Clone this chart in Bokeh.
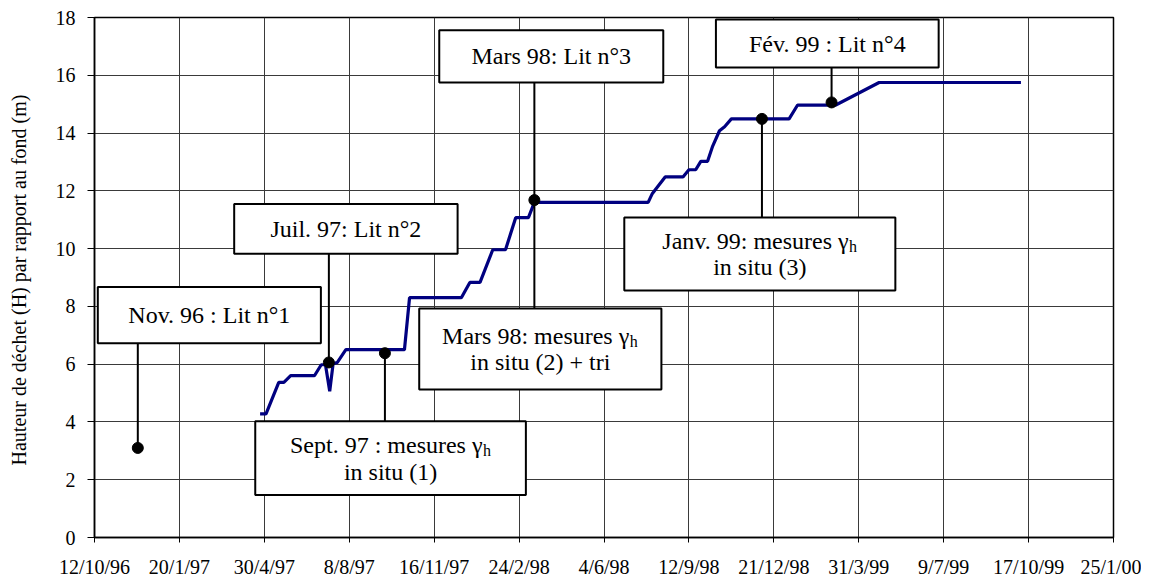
import pandas as pd
from bokeh.plotting import figure
from bokeh.models import FixedTicker, Label, Range1d
from bokeh.embed import file_html
from bokeh.resources import INLINE

# ---------------- data ----------------
height_dates = ["1997-04-25", "1997-05-02", "1997-05-17", "1997-05-23", "1997-05-31", "1997-06-28",
                "1997-07-06", "1997-07-11", "1997-07-16", "1997-07-20", "1997-07-25", "1997-08-04",
                "1997-10-12", "1997-10-18", "1997-12-18", "1997-12-28", "1998-01-09", "1998-01-24",
                "1998-02-08", "1998-02-20", "1998-03-07", "1998-03-14", "1998-07-26", "1998-07-31",
                "1998-08-15", "1998-09-05", "1998-09-12", "1998-09-20", "1998-09-26", "1998-10-04",
                "1998-10-10", "1998-10-18", "1998-10-24", "1998-11-01", "1999-01-08", "1999-01-18",
                "1999-03-04", "1999-04-24", "1999-10-08"]
height_m = [4.28, 4.28, 5.37, 5.37, 5.60, 5.60,
            5.98, 5.98, 5.06, 6.02, 6.06, 6.50,
            6.50, 8.30, 8.30, 8.83, 8.83, 9.96,
            9.96, 11.07, 11.07, 11.60, 11.60, 11.91,
            12.48, 12.48, 12.73, 12.73, 13.02, 13.02,
            13.55, 14.08, 14.22, 14.49, 14.49, 14.97,
            14.97, 15.75, 15.75]

event_dates = ["1996-12-02", "1997-07-15", "1997-09-19", "1998-03-14", "1998-12-07", "1999-02-27"]
event_heights = [3.10, 6.06, 6.38, 11.68, 14.49, 15.06]

tick_dates = ["1996-10-12", "1997-01-20", "1997-04-30", "1997-08-08", "1997-11-16", "1998-02-24",
              "1998-06-04", "1998-09-12", "1998-12-21", "1999-03-31", "1999-07-09", "1999-10-17",
              "2000-01-25"]
tick_labels = ["12/10/96", "20/1/97", "30/4/97", "8/8/97", "16/11/97", "24/2/98", "4/6/98",
               "12/9/98", "21/12/98", "31/3/99", "9/7/99", "17/10/99", "25/1/00"]
y_ticks = [0, 2, 4, 6, 8, 10, 12, 14, 16, 18]

y_title = "Hauteur de déchet (H) par rapport au fond  (m)"

# ---------------- helpers ----------------
def to_ms(d):
    return pd.Timestamp(d).value // 10**6

tick_ms = [to_ms(d) for d in tick_dates]
start_ms = tick_ms[0]
DAY = 86400000

def dx(days):
    # position expressed in days after the first tick
    return start_ms + days * DAY

FONT = "Liberation Serif"

p = figure(width=1141, height=580, output_backend="svg", toolbar_location=None,
           x_axis_type="datetime",
           x_range=Range1d(tick_ms[0], tick_ms[-1]), y_range=Range1d(0, 18),
           min_border_left=94, min_border_right=28, min_border_top=17, min_border_bottom=40)
p.background_fill_color = "white"
p.border_fill_color = "white"
p.outline_line_color = "black"
p.outline_line_width = 1.5

# axes
p.xaxis.ticker = FixedTicker(ticks=tick_ms)
p.xaxis.major_label_overrides = dict(zip(tick_ms, tick_labels))
p.yaxis.ticker = FixedTicker(ticks=y_ticks)
for ax in (p.xaxis[0], p.yaxis[0]):
    ax.minor_tick_line_color = None
    ax.major_tick_in = 0
    ax.axis_line_color = "black"
    ax.axis_line_width = 1.5
    ax.major_tick_line_color = "black"
    ax.major_label_text_font = FONT
    ax.major_label_text_font_size = "20px"
    ax.major_label_text_color = "black"
p.xaxis.major_tick_out = 5
p.xaxis.major_label_standoff = 13
p.yaxis.major_tick_out = 7
p.yaxis.major_label_standoff = 12
p.yaxis.axis_label = y_title
p.yaxis.axis_label_text_font = FONT
p.yaxis.axis_label_text_font_size = "20px"
p.yaxis.axis_label_text_font_style = "normal"
p.yaxis.axis_label_text_color = "black"
p.yaxis.axis_label_standoff = 23

for g in (p.xgrid[0], p.ygrid[0]):
    g.grid_line_color = "#3a3a3a"
    g.grid_line_width = 1

# main series
p.line(pd.to_datetime(height_dates), height_m, line_color="#000080", line_width=3.2)

# connectors (marker -> box edge)
ev_x = [to_ms(d) for d in event_dates]
conn_from = [event_heights[0], event_heights[1], event_heights[2], 15.75, event_heights[4], event_heights[5]]
conn_to = [6.72, 9.82, 4.02, 7.93, 11.08, 16.27]
p.segment(x0=ev_x, y0=conn_from, x1=ev_x, y1=conn_to, line_color="black", line_width=2)
p.scatter(ev_x, event_heights, size=11, fill_color="black", line_color="black")

# annotation boxes: (left day, right day, bottom m, top m)
boxes = [
    (3.9, 266.6, 6.72, 8.67),      # Nov. 96
    (164.5, 427.6, 9.82, 11.54),   # Juil. 97
    (406.0, 669.8, 15.75, 17.56),  # Mars 98 lit
    (731.8, 994.1, 16.27, 17.93),  # Fev 99
    (623.9, 943.1, 8.55, 11.08),   # Janv 99
    (382.4, 667.6, 5.12, 7.93),    # Mars 98 mesures
    (189.3, 508.0, 1.47, 4.02),    # Sept 97
]
p.quad(left=[dx(b[0]) for b in boxes], right=[dx(b[1]) for b in boxes],
       bottom=[b[2] for b in boxes], top=[b[3] for b in boxes],
       fill_color="white", line_color="black", line_width=2)

def label(x_day, y, text, size="24px", align="center"):
    p.add_layout(Label(x=dx(x_day), y=y, text=text, text_font=FONT, text_font_size=size,
                       text_align=align, text_baseline="middle", text_color="black"))

single = [
    ("Nov. 96 : Lit n°1", boxes[0]),
    ("Juil. 97: Lit n°2", boxes[1]),
    ("Mars 98: Lit n°3", boxes[2]),
    ("Fév. 99 : Lit n°4", boxes[3]),
]
for txt, b in single:
    label((b[0] + b[1]) / 2, (b[2] + b[3]) / 2, txt)

# two-line boxes with subscript h: (first part, second line, box, split day)
HALF = 13.5 / 29.06
double = [
    ("Janv. 99: mesures γ", "in situ (3)", boxes[4], 888.1),
    ("Mars 98: mesures γ", "in situ (2) + tri", boxes[5], 629.8),
    ("Sept. 97 : mesures γ", "in situ (1)", boxes[6], 457.0),
]
for l1, l2, b, split in double:
    cx = (b[0] + b[1]) / 2
    cy = (b[2] + b[3]) / 2
    label(split, cy + HALF, l1, align="right")
    label(split + 0.5, cy + HALF - 0.2, "h", size="16px", align="left")
    label(cx, cy - HALF, l2)

open("out.html", "w").write(file_html(p, INLINE))
